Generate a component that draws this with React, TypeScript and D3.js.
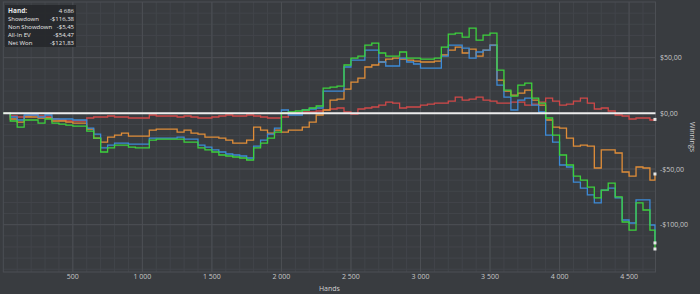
import React from 'react';
import * as d3 from 'd3';

// Hands sampled every 50 hands, plus the final hand
const hands: number[] = [...d3.range(0, 4651, 50), 4686];

const netWon = [0, -6.9, -12.3, -6.0, -6.0, -8.7, -5.1, -8.7, -9.6, -10.5, -11.4, -11.4, -15.9, -22.2, -34.7, -31.1, -28.5, -28.5, -30.3, -31.1,
  -31.1, -24.0, -23.1, -23.1, -23.1, -23.1, -25.8, -25.8, -31.1, -32.9, -34.7, -37.4, -38.3, -39.2, -40.1, -41.9, -31.1, -26.7, -22.2, -16.8,
  0.3, 1.2, 2.1, 3.0, 4.8, 6.6, 22.7, 23.6, 24.5, 43.4, 49.6, 51.4, 61.3, 63.1, 54.2, 51.4, 51.4, 55.1, 49.6, 49.6,
  48.7, 48.7, 49.6, 59.5, 71.2, 72.0, 68.5, 76.6, 65.8, 70.3, 72.0, 38.9, 20.9, 15.5, 25.4, 27.2, 13.7, 9.2, -4.2, -19.5,
  -37.4, -46.4, -56.3, -59.9, -66.2, -76.0, -68.9, -62.6, -75.1, -97.6, -104.8, -80.5, -86.8, -104.8, -121.83];

const showdown = [0, -3.3, -6.0, -1.5, -1.5, -3.3, -1.5, -5.1, -5.1, -5.1, -6.0, -6.0, -13.2, -18.6, -31.1, -28.5, -26.7, -26.7, -27.6, -27.6,
  -27.6, -22.2, -22.2, -22.2, -22.2, -21.3, -23.1, -23.1, -28.5, -30.3, -32.9, -34.7, -36.5, -37.4, -38.3, -40.1, -29.4, -24.0, -18.6, -13.2,
  3.0, -1.5, -1.5, 3.0, 3.9, 4.8, 20.0, 20.0, 20.0, 41.6, 47.8, 47.8, 56.8, 56.8, 46.1, 42.5, 42.5, 49.6, 46.1, 44.3,
  40.7, 40.7, 40.7, 51.4, 61.3, 61.3, 58.6, 49.6, 55.1, 56.8, 61.3, 25.4, 14.6, 3.0, 11.9, 13.7, 7.4, 1.2, -19.5, -25.8,
  -46.4, -48.2, -61.7, -67.1, -73.3, -80.5, -68.9, -67.1, -76.0, -95.8, -98.5, -77.8, -77.8, -100.3, -116.38];

const nonShowdown = [0, -2.4, -3.3, -2.4, -1.5, -2.4, -3.3, -5.1, -6.0, -6.9, -6.9, -6.9, -4.2, -3.3, -3.3, -2.4, -3.3, -3.3, -4.2, -4.2,
  -4.2, -1.5, -2.4, -2.4, -2.4, -3.3, -2.4, -3.3, -4.2, -4.2, -3.3, -2.4, -1.5, -2.4, -2.4, -1.5, -2.4, -3.3, -4.2, -4.2,
  -3.3, 0.3, 0.3, 1.2, 1.2, 2.1, 3.0, 3.9, 4.8, 1.2, -0.6, 3.9, 4.8, 5.7, 7.4, 10.1, 9.2, 4.8, 5.7, 5.7,
  7.4, 8.3, 9.2, 9.2, 11.0, 14.6, 11.9, 12.8, 14.6, 11.9, 11.0, 9.2, 9.2, 10.1, 10.1, 7.4, 8.3, 10.1, 13.7, 11.0,
  7.4, 8.3, 11.0, 13.7, 9.2, 3.9, 4.8, 2.1, -1.5, -2.4, -5.1, -4.2, -4.2, -6.0, -5.45];

const allInEV = [0, -5.1, -7.8, -3.3, -3.3, -4.2, -4.2, -6.9, -6.9, -7.8, -8.7, -8.7, -14.1, -22.2, -25.8, -21.3, -19.5, -17.7, -20.4, -20.4,
  -20.4, -15.0, -14.1, -14.1, -14.1, -16.8, -15.0, -17.7, -18.6, -21.3, -21.3, -22.2, -24.0, -26.7, -26.7, -24.0, -12.3, -15.0, -17.7, -15.0,
  -16.8, -15.0, -15.0, -12.3, -7.8, -1.5, 3.0, 11.9, 12.8, 21.8, 28.1, 31.6, 41.6, 43.4, 46.1, 48.7, 49.6, 48.7, 47.8, 46.9,
  46.1, 46.1, 46.9, 52.4, 56.8, 59.5, 54.2, 57.7, 51.4, 56.8, 61.3, 29.9, 20.0, 16.4, 18.2, 20.9, 11.9, 7.4, -6.0, -12.3,
  -13.2, -22.2, -29.4, -28.5, -29.4, -49.1, -32.9, -32.9, -35.6, -52.7, -56.3, -48.2, -49.1, -59.9, -54.47];

const seriesNames = ['Non Showdown', 'All-In EV', 'Showdown', 'Net Won'];
const seriesColors = ['#cf4848', '#e08d38', '#3d8ad6', '#3cd13c'];
const seriesValues = [nonShowdown, allInEV, showdown, netWon];

const xTicks = [500, 1000, 1500, 2000, 2500, 3000, 3500, 4000, 4500];
const yTicks = [50, 0, -50, -100];
const yTickLabels = ['$50,00', '$0,00', '-$50,00', '-$100,00'];

const statLabels = ['Hand:', 'Showdown', 'Non Showdown', 'All-In EV', 'Net Won'];
const statValues = ['4 686', '-$116,38', '-$5,45', '-$54,47', '-$121,83'];

const W = 700;
const H = 294;
const plot = { left: 3.3, right: 655.5, top: 2, bottom: 272 };
const FONT = '"Open Sans", "Noto Sans", sans-serif';

export default function App() {
  const x = d3.scaleLinear().domain([0, 4690]).range([plot.left, plot.right]);
  const y = d3.scaleLinear().domain([-142.5, 100]).range([plot.bottom, plot.top]);

  const line = d3
    .line<[number, number]>()
    .x((d) => x(d[0]))
    .y((d) => y(d[1]))
    .curve(d3.curveStepAfter);

  const minorX = d3.range(100, 4690, 100);
  const minorY = d3.range(-140, 100, 10);
  const fmtX = (v: number) => (v >= 1000 ? `${Math.floor(v / 1000)} ${String(v % 1000).padStart(3, '0')}` : String(v));

  return (
    <div style={{ position: 'absolute', left: 0, top: 0 }}>
      <svg width={W} height={H} style={{ display: 'block', fontFamily: FONT }}>
        <rect x={0} y={0} width={W} height={H} fill="#393c40" />
        {/* minor grid */}
        {minorX.map((v) => (
          <line key={'mx' + v} x1={x(v)} x2={x(v)} y1={plot.top} y2={plot.bottom} stroke="#42454a" strokeWidth={1} />
        ))}
        {minorY.map((v) => (
          <line key={'my' + v} x1={plot.left} x2={plot.right} y1={y(v)} y2={y(v)} stroke="#42454a" strokeWidth={1} />
        ))}
        {/* major grid */}
        {xTicks.map((v) => (
          <line key={'gx' + v} x1={x(v)} x2={x(v)} y1={plot.top} y2={plot.bottom} stroke="#4c4f54" strokeWidth={1} />
        ))}
        {yTicks.map((v) => (
          <line key={'gy' + v} x1={plot.left} x2={plot.right} y1={y(v)} y2={y(v)} stroke="#4c4f54" strokeWidth={1} />
        ))}
        <rect x={plot.left} y={plot.top} width={plot.right - plot.left} height={plot.bottom - plot.top} fill="none" stroke="#4c4f54" strokeWidth={1} />

        {/* series */}
        {seriesValues.map((vals, i) => (
          <path
            key={seriesNames[i]}
            d={line(vals.map((v, j) => [hands[j], v] as [number, number])) || ''}
            fill="none"
            stroke={seriesColors[i]}
            strokeWidth={1.3}
          />
        ))}
        {/* zero line */}
        <line x1={plot.left} x2={plot.right} y1={y(0)} y2={y(0)} stroke="#ececec" strokeWidth={2} />
        {/* end markers */}
        {seriesValues.map((vals, i) => (
          <rect
            key={'m' + i}
            x={x(hands[hands.length - 1]) - 1.5}
            y={y(vals[vals.length - 1]) - 1.5}
            width={3}
            height={3}
            fill="#e6e6e6"
          />
        ))}

        {/* y axis labels (right) */}
        {yTicks.map((v, i) => (
          <text key={'yl' + v} x={660} y={y(v) + 2.5} fontSize={7} fill="#c8c8c8">
            {yTickLabels[i]}
          </text>
        ))}
        <text
          transform={`translate(690,${(plot.top + plot.bottom) / 2}) rotate(90)`}
          textAnchor="middle"
          fontSize={7}
          fill="#d0d0d0"
        >
          Winnings
        </text>

        {/* x axis labels */}
        {xTicks.map((v) => (
          <text key={'xl' + v} x={x(v)} y={279} textAnchor="middle" fontSize={7} fill="#c8c8c8">
            {fmtX(v)}
          </text>
        ))}
        <text x={(plot.left + plot.right) / 2} y={291} textAnchor="middle" fontSize={7} fill="#d0d0d0">
          Hands
        </text>

        {/* stats box */}
        <rect x={5} y={5} width={71} height={42} fill="#26282b" opacity={0.92} />
        {statLabels.map((s, i) => (
          <g key={'st' + i}>
            <text x={8} y={12.5 + i * 8} fontSize={i === 0 ? 6.5 : 6} fontWeight={i === 0 ? 'bold' : 'normal'} fill="#e8e8e8">
              {s}
            </text>
            <text x={74} y={12.5 + i * 8} textAnchor="end" fontSize={6} fill="#e8e8e8">
              {statValues[i]}
            </text>
          </g>
        ))}
      </svg>
    </div>
  );
}
